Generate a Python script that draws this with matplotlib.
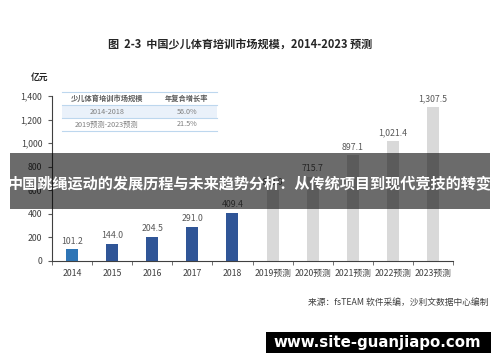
import numpy as np
import matplotlib
matplotlib.use("Agg")
import matplotlib.pyplot as plt
from matplotlib.patches import Rectangle
from matplotlib.lines import Line2D
from matplotlib.ticker import FuncFormatter

plt.rcParams['font.family'] = ['Noto Sans CJK SC', 'DejaVu Sans']

# ---------------------------------------------------------------------------
# Data
# ---------------------------------------------------------------------------
YEARS = ["2014", "2015", "2016", "2017", "2018",
         "2019预测", "2020预测", "2021预测", "2022预测", "2023预测"]
VALUES = [101.2, 144.0, 204.5, 291.0, 409.4,
          600.0, 715.7, 897.1, 1021.4, 1307.5]
COLORS = ["#2E75B6"] + ["#2F5597"] * 4 + ["#D9D9D9"] * 5

TABLE_HEAD = ["少儿体育培训市场规模", "年复合增长率"]
TABLE_ROWS = [["2014-2018", "56.0%"],
              ["2019预测-2023预测", "21.5%"]]

W, H = 500, 362


def fx(px):
    return px / W


def fy(py):
    return 1 - py / H


fig = plt.figure(figsize=(5, 3.62), dpi=100)
ax = fig.add_axes([fx(52), fy(261), fx(453) - fx(52), fy(96) - fy(261)])

x = np.arange(len(YEARS))
ax.bar(x, VALUES, width=0.3, color=COLORS)
for xi, v in zip(x, VALUES):
    ax.text(xi, v + 30, f"{v:,.1f}", ha="center", va="bottom",
            fontsize=6.3, color="#595959", clip_on=False)

ax.set_xlim(-0.5, len(YEARS) - 0.5)
ax.set_ylim(0, 1400)
ax.set_yticks(np.arange(0, 1401, 200))
ax.yaxis.set_major_formatter(FuncFormatter(lambda v, p: f"{v:,.0f}"))
ax.set_xticks(x)
ax.set_xticklabels(YEARS)
ax.set_xticks(np.arange(-0.5, len(YEARS), 1), minor=True)
ax.tick_params(axis="x", which="major", length=0, pad=6,
               labelsize=6.3, labelcolor="#404040")
ax.tick_params(axis="x", which="minor", length=3, color="#595959")
ax.tick_params(axis="y", length=3, pad=4, labelsize=6.3,
               labelcolor="#404040", color="#595959")
for s in ["top", "right"]:
    ax.spines[s].set_visible(False)
for s in ["left", "bottom"]:
    ax.spines[s].set_color("#404040")
    ax.spines[s].set_linewidth(0.8)

# title and unit
fig.text(fx(240), fy(45), "图  2-3  中国少儿体育培训市场规模，2014-2023 预测",
         ha="center", va="center", fontsize=8, fontweight="bold", color="#262626")
fig.text(fx(40), fy(77), "亿元", ha="center", va="center",
         fontsize=6.3, fontweight="bold", color="#262626")

# small table
x0, x1 = 62, 217
col_c = [107, 187]
line_y = [92, 105, 118, 131]
row_y = [98, 111.5, 124.5]
fig.add_artist(Rectangle((fx(x0), fy(line_y[2])), fx(x1) - fx(x0),
                         fy(line_y[1]) - fy(line_y[2]),
                         transform=fig.transFigure, color="#EAF1FA", lw=0))
for ly in line_y:
    fig.add_artist(Line2D([fx(x0), fx(x1)], [fy(ly), fy(ly)],
                          transform=fig.transFigure, color="#BDD7EE", lw=0.8))
for cx, t in zip(col_c, TABLE_HEAD):
    fig.text(fx(cx), fy(row_y[0]), t, ha="center", va="center",
             fontsize=5.2, fontweight="bold", color="#595959")
for ry, row in zip(row_y[1:], TABLE_ROWS):
    for cx, t in zip(col_c, row):
        fig.text(fx(cx), fy(ry), t, ha="center", va="center",
                 fontsize=5.2, color="#7F7F7F")

# source
fig.text(fx(488), fy(302), "来源：fsTEAM 软件采编，沙利文数据中心编制",
         ha="right", va="center", fontsize=6.3, style="italic", color="#404040")

# overlay banner
fig.add_artist(Rectangle((fx(10), fy(209)), fx(490) - fx(10), fy(153) - fy(209),
                         transform=fig.transFigure, color="black", alpha=0.58,
                         lw=0, zorder=5))
fig.text(0.5, fy(183), "中国跳绳运动的发展历程与未来趋势分析：从传统项目到现代竞技的转变",
         ha="center", va="center", fontsize=10.9, fontweight="bold",
         color="white", zorder=6)

# watermark box
fig.add_artist(Rectangle((fx(266), fy(353)), fx(491) - fx(266), fy(332) - fy(353),
                         transform=fig.transFigure, color="black", lw=0, zorder=5))
fig.text(fx(377), fy(342.5), "www.site-guanjiapo.com", ha="center", va="center",
         fontsize=10.8, fontweight="bold", color="white", zorder=6,
         family=["DejaVu Sans"])

fig.savefig("out.png", dpi=100)
